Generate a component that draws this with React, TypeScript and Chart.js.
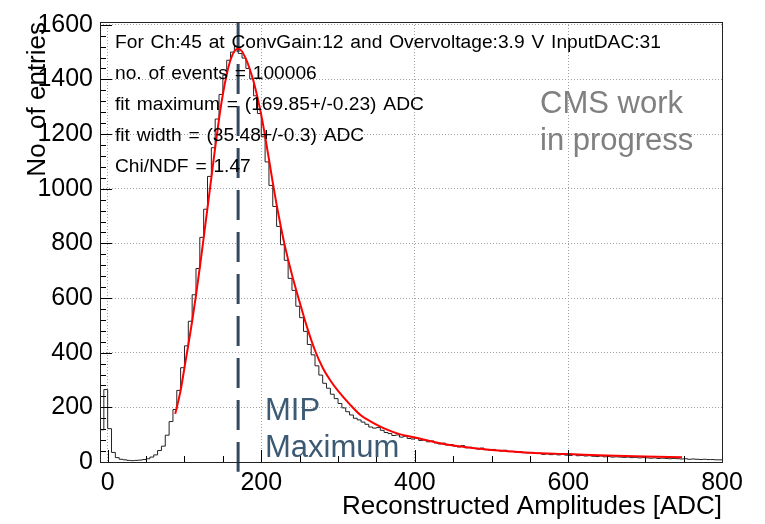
import React, { useEffect, useRef } from 'react';
import { Chart, registerables } from 'chart.js';

Chart.register(...registerables);

// ---------- data ----------
const binStart = -10;
const binWidth = 5;
const counts = [
  110, 118, 265, 122, 35, 16, 10, 8, 6, 5,
  6, 7, 9, 12, 18, 26, 42, 58, 98, 148,
  192, 262, 345, 425, 515, 612, 708, 822, 925, 1045,
  1150, 1255, 1345, 1415, 1470, 1500, 1522, 1495, 1478, 1440,
  1402, 1340, 1275, 1190, 1098, 1012, 935, 862, 795, 738,
  672, 628, 570, 528, 478, 430, 392, 352, 318, 288,
  270, 248, 232, 214, 198, 184, 172, 160, 154, 146,
  138, 128, 124, 126, 116, 108, 104, 97, 99, 91,
  94, 86, 84, 88, 79, 80, 74, 77, 70, 66,
  69, 62, 64, 58, 55, 60, 52, 54, 50, 47,
  51, 45, 44, 46, 42, 40, 43, 38, 39, 36,
  38, 34, 33, 35, 31, 32, 28, 30, 27, 29,
  26, 28, 25, 24, 27, 23, 24, 22, 23, 21,
  20, 22, 19, 20, 18, 19, 18, 17, 18, 16,
  17, 15, 16, 15, 14, 15, 13, 14, 13, 12,
  13, 12, 11, 12, 10, 11, 10, 9, 10, 9,
  9, 8,
];

const fitX = [88, 95, 100, 105, 110, 115, 120, 125, 130, 135, 140, 145, 150, 155, 160, 165, 170, 175, 180, 185, 190, 195, 200, 205, 210, 215, 220, 225, 230, 240, 250, 260, 270, 280, 290, 300, 315, 330, 345, 360, 380, 400, 425, 450, 475, 500, 550, 600, 650, 700, 748];
const fitY = [176, 262, 345, 428, 515, 610, 712, 820, 930, 1040, 1150, 1255, 1345, 1418, 1472, 1503, 1512, 1502, 1475, 1438, 1392, 1335, 1270, 1192, 1108, 1022, 942, 868, 800, 685, 585, 490, 408, 345, 298, 260, 212, 170, 144, 123, 102, 90, 73, 60, 51, 44, 34, 29, 23.5, 20, 17];

const xTicks = [0, 200, 400, 600, 800];
const yTicks = [0, 200, 400, 600, 800, 1000, 1200, 1400, 1600];
const xMinorStep = 50;
const yMinorStep = 40;
const xMin = -10;
const xMax = 800;
const yMin = 0;
const yMax = 1610;

const fitMaximum = 169.85;
const markerLow = -36;

const statLines = [
  'For Ch:45 at ConvGain:12 and Overvoltage:3.9 V InputDAC:31',
  'no. of events = 100006',
  'fit maximum = (169.85+/-0.23) ADC',
  'fit width = (35.48+/-0.3) ADC',
  'Chi/NDF = 1.47',
];
const cmsLines = ['CMS work', 'in progress'];
const mipLines = ['MIP', 'Maximum'];
const xTitle = 'Reconstructed Amplitudes [ADC]';
const yTitle = 'No. of entries';

const FONT = '"Liberation Sans", Arial, Helvetica, sans-serif';

const framePlugin = {
  id: 'rootFrame',
  afterDraw(chart: any) {
    const { ctx, chartArea } = chart;
    const xs = chart.scales.x;
    const ys = chart.scales.y;
    const { left, right, top, bottom } = chartArea;
    ctx.save();
    // ticks (inside, ROOT style)
    ctx.strokeStyle = '#000';
    ctx.lineWidth = 1;
    ctx.beginPath();
    for (let v = 0; v <= xMax; v += xMinorStep) {
      const px = Math.round(xs.getPixelForValue(v)) + 0.5;
      const len = xTicks.includes(v) ? 12 : 6;
      ctx.moveTo(px, bottom);
      ctx.lineTo(px, bottom - len);
    }
    for (let v = 0; v <= yMax; v += yMinorStep) {
      const py = Math.round(ys.getPixelForValue(v)) + 0.5;
      const len = yTicks.includes(v) ? 12 : 6;
      ctx.moveTo(left, py);
      ctx.lineTo(left + len, py);
    }
    ctx.stroke();
    // frame
    ctx.strokeStyle = '#222';
    ctx.strokeRect(Math.round(left) + 0.5, Math.round(top) + 0.5, Math.round(right - left), Math.round(bottom - top));

    // statistics text
    ctx.fillStyle = '#000';
    ctx.font = `19.2px ${FONT}`;
    ctx.textAlign = 'left';
    ctx.textBaseline = 'alphabetic';
    try {
      (ctx as any).wordSpacing = '1.5px';
    } catch (e) {
      /* ignore */
    }
    statLines.forEach((t, i) => ctx.fillText(t, 115, 48 + i * 31));
    try {
      (ctx as any).wordSpacing = '0px';
    } catch (e) {
      /* ignore */
    }

    // CMS label
    ctx.fillStyle = '#808080';
    ctx.font = `31px ${FONT}`;
    cmsLines.forEach((t, i) => ctx.fillText(t, 540, 113 + i * 37));

    // MIP label
    ctx.fillStyle = '#3c5a74';
    ctx.font = `31px ${FONT}`;
    mipLines.forEach((t, i) => ctx.fillText(t, 265, 420 + i * 37));
    ctx.restore();
  },
};

export default function App() {
  const ref = useRef<HTMLCanvasElement>(null);
  useEffect(() => {
    document.body.style.margin = '0';
    const histData = counts.map((c, i) => ({ x: binStart + i * binWidth, y: c }));
    histData.push({ x: binStart + counts.length * binWidth, y: counts[counts.length - 1] });
    const fitData = fitX.map((x, i) => ({ x, y: fitY[i] }));
    const chart = new Chart(ref.current as HTMLCanvasElement, {
      type: 'line',
      data: {
        datasets: [
          {
            label: 'fit',
            data: fitData,
            borderColor: '#ff0000',
            borderWidth: 2,
            pointRadius: 0,
            cubicInterpolationMode: 'monotone',
            fill: false,
          },
          {
            label: 'MIP',
            data: [
              { x: fitMaximum, y: yMax },
              { x: fitMaximum, y: markerLow },
            ],
            borderColor: '#34495e',
            borderWidth: 3,
            borderDash: [30, 12],
            pointRadius: 0,
            clip: false,
            fill: false,
          },
          {
            label: 'hist',
            data: histData,
            borderColor: '#222',
            borderWidth: 1,
            stepped: 'after',
            pointRadius: 0,
            fill: false,
          },
        ],
      } as any,
      options: {
        animation: false,
        responsive: false,
        events: [],
        layout: { padding: { top: 15, right: 43, left: 0, bottom: 0 } },
        plugins: { legend: { display: false }, tooltip: { enabled: false } },
        scales: {
          x: {
            type: 'linear',
            min: xMin,
            max: xMax,
            afterBuildTicks: (s: any) => {
              s.ticks = xTicks.map((v) => ({ value: v }));
            },
            afterFit: (s: any) => {
              s.height = 62;
            },
            grid: { color: '#a0a0a0', lineWidth: 1, drawTicks: false },
            border: { display: false, dash: [1, 2] },
            ticks: {
              color: '#000',
              font: { family: FONT, size: 25 },
              padding: 6,
              maxRotation: 0,
              callback: (v: any) => String(v),
            },
            title: {
              display: true,
              text: xTitle,
              align: 'end',
              color: '#000',
              font: { family: FONT, size: 26 },
              padding: { top: 0, bottom: 2 },
            },
          },
          y: {
            type: 'linear',
            min: yMin,
            max: yMax,
            afterBuildTicks: (s: any) => {
              s.ticks = yTicks.map((v) => ({ value: v }));
            },
            afterFit: (s: any) => {
              s.width = 100;
            },
            grid: { color: '#a0a0a0', lineWidth: 1, drawTicks: false },
            border: { display: false, dash: [1, 2] },
            ticks: {
              color: '#000',
              font: { family: FONT, size: 25 },
              padding: 7,
              callback: (v: any) => String(v),
            },
            title: {
              display: true,
              text: yTitle,
              align: 'end',
              color: '#000',
              font: { family: FONT, size: 26 },
              padding: { top: 22, bottom: 0 },
            },
          },
        },
      } as any,
      plugins: [framePlugin],
    });
    return () => chart.destroy();
  }, []);
  return <canvas ref={ref} width={765} height={524} style={{ display: 'block' }} />;
}
